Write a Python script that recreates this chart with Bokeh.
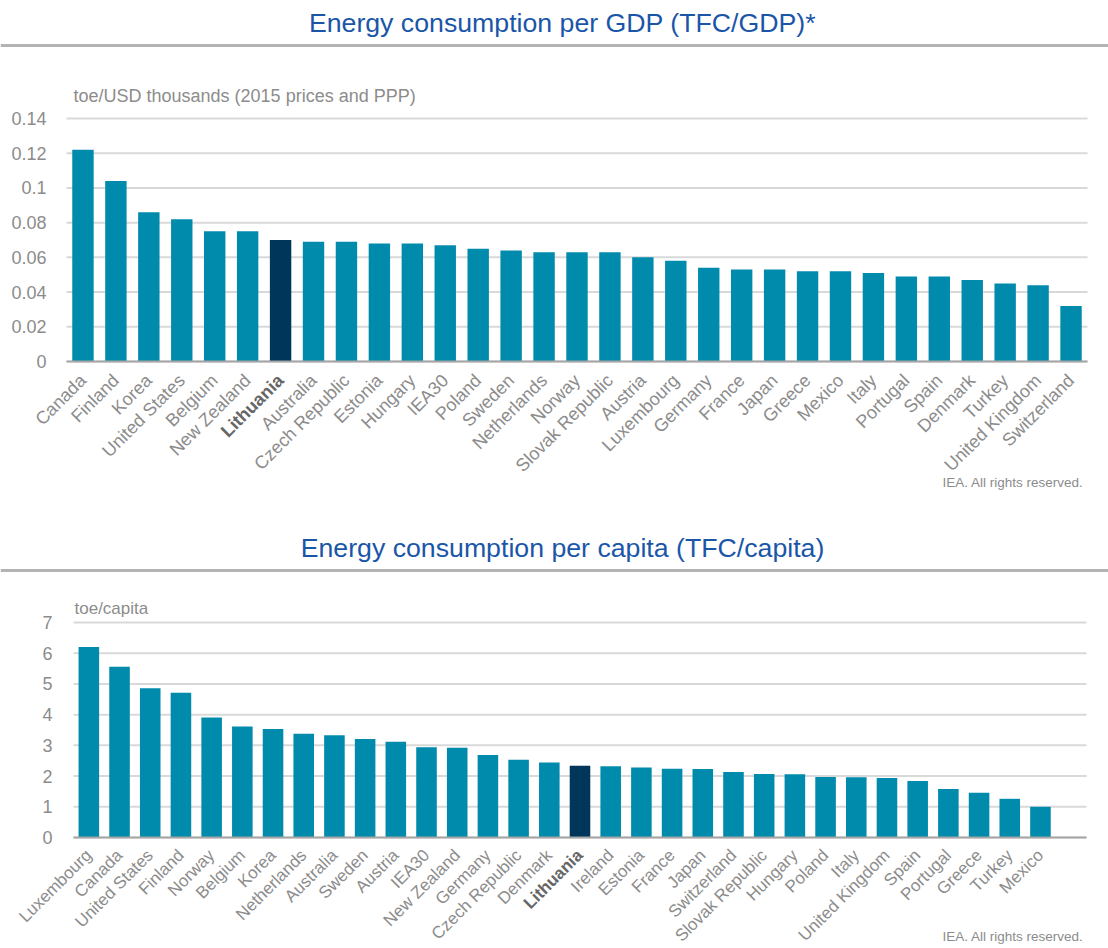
import math
from bokeh.plotting import figure
from bokeh.models import ColumnDataSource, Label, Span, Range1d
from bokeh.layouts import column
from bokeh.core.properties import value
from bokeh.embed import file_html
from bokeh.resources import INLINE

# ---------------- data ----------------
gdp_title = "Energy consumption per GDP (TFC/GDP)*"
gdp_unit = "toe/USD thousands (2015 prices and PPP)"
gdp_countries = ["Canada", "Finland", "Korea", "United States", "Belgium", "New Zealand",
                 "Lithuania", "Australia", "Czech Republic", "Estonia", "Hungary", "IEA30",
                 "Poland", "Sweden", "Netherlands", "Norway", "Slovak Republic", "Austria",
                 "Luxembourg", "Germany", "France", "Japan", "Greece", "Mexico", "Italy",
                 "Portugal", "Spain", "Denmark", "Turkey", "United Kingdom", "Switzerland"]
gdp_values = [0.122, 0.104, 0.086, 0.082, 0.075, 0.075,
              0.070, 0.069, 0.069, 0.068, 0.068, 0.067,
              0.065, 0.064, 0.063, 0.063, 0.063, 0.060,
              0.058, 0.054, 0.053, 0.053, 0.052, 0.052, 0.051,
              0.049, 0.049, 0.047, 0.045, 0.044, 0.032]
gdp_ticks = [0, 0.02, 0.04, 0.06, 0.08, 0.1, 0.12, 0.14]
gdp_tick_labels = ["0", "0.02", "0.04", "0.06", "0.08", "0.1", "0.12", "0.14"]

cap_title = "Energy consumption per capita (TFC/capita)"
cap_unit = "toe/capita"
cap_countries = ["Luxembourg", "Canada", "United States", "Finland", "Norway", "Belgium",
                 "Korea", "Netherlands", "Australia", "Sweden", "Austria", "IEA30",
                 "New Zealand", "Germany", "Czech Republic", "Denmark", "Lithuania", "Ireland",
                 "Estonia", "France", "Japan", "Switzerland", "Slovak Republic", "Hungary",
                 "Poland", "Italy", "United Kingdom", "Spain", "Portugal", "Greece",
                 "Turkey", "Mexico"]
cap_values = [6.20, 5.56, 4.86, 4.71, 3.91, 3.61,
              3.53, 3.38, 3.33, 3.21, 3.12, 2.94,
              2.92, 2.69, 2.53, 2.44, 2.34, 2.32,
              2.28, 2.24, 2.23, 2.13, 2.07, 2.06,
              1.97, 1.96, 1.94, 1.84, 1.58, 1.46,
              1.26, 1.00]
cap_ticks = [0, 1, 2, 3, 4, 5, 6, 7]
cap_tick_labels = ["0", "1", "2", "3", "4", "5", "6", "7"]

credit = "IEA. All rights reserved."
highlight = "Lithuania"

# ---------------- style ----------------
FONT = "Liberation Sans"
TEAL = "#008BAD"
NAVY = "#00365A"
BLUE = "#1A56A8"
GREY_TXT = "#8C8C8C"
DARK_TXT = "#666666"
GRID = "#D9D9D9"
AXIS = "#A6A6A6"
RULE = "#B3B3B3"
W = 1108


def build(title, unit, countries, values, ticks, tick_labels, n_slots, fig_h,
          grid_left, grid_right, axis_py, top_py, title_py, rule_py,
          unit_px, unit_py, unit_size, tick_right_px, credit_px, credit_py,
          bar_width, label_dy, label_size):
    # pixel layout -> data coordinates (frame covers the whole canvas)
    sw = (grid_right - grid_left) / n_slots
    pxu = (axis_py - top_py) / ticks[-1]

    def X(px):
        return -0.5 + (px - grid_left) / sw

    def Y(py):
        return (axis_py - py) / pxu

    p = figure(width=W, height=fig_h, x_range=Range1d(X(0), X(W)),
               y_range=Range1d(Y(fig_h), Y(0)), toolbar_location=None,
               output_backend="svg", title=None, x_axis_location=None,
               y_axis_location=None, min_border=0, outline_line_color=None)
    p.grid.visible = False

    # header
    p.add_layout(Label(x=X(W / 2 + 8), y=Y(title_py), text=title, text_align="center",
                       text_baseline="middle", text_font=FONT, text_font_size="26.7px",
                       text_color=BLUE))
    p.add_layout(Span(location=Y(rule_py), dimension="width", line_color=RULE,
                      line_width=3))

    # gridlines and tick labels
    gsrc = ColumnDataSource(dict(y=ticks, lab=tick_labels,
                                 x0=[-0.5] * len(ticks), x1=[n_slots - 0.5] * len(ticks),
                                 xl=[X(tick_right_px)] * len(ticks)))
    p.segment(x0="x0", x1="x1", y0="y", y1="y", line_color=GRID, line_width=2, source=gsrc)
    p.text(x="xl", y="y", text="lab", text_align="right", text_baseline="middle",
           text_font=value(FONT), text_font_size=value("18px"), text_color=GREY_TXT,
           source=gsrc)

    # bars
    idx = list(range(len(countries)))
    src = ColumnDataSource(dict(
        x=idx, top=values, name=countries,
        color=[NAVY if c == highlight else TEAL for c in countries],
        style=["bold" if c == highlight else "normal" for c in countries],
        tcolor=[DARK_TXT if c == highlight else GREY_TXT for c in countries],
        ylab=[Y(axis_py + label_dy)] * len(countries),
    ))
    p.vbar(x="x", top="top", width=bar_width, fill_color="color", line_color=None,
           source=src)

    # baseline axis
    p.segment(x0=[-0.5], x1=[n_slots - 0.5], y0=[0], y1=[0], line_color=AXIS, line_width=2)

    # category labels
    p.text(x="x", y="ylab", text="name", angle=math.pi / 4, text_align="right",
           text_baseline="middle", text_font=value(FONT), text_font_size=value(label_size),
           text_font_style="style", text_color="tcolor", source=src)

    # unit & credit
    p.add_layout(Label(x=X(unit_px), y=Y(unit_py), text=unit, text_align="left",
                       text_baseline="middle", text_font=FONT, text_font_size=unit_size,
                       text_color=GREY_TXT))
    p.add_layout(Label(x=X(credit_px), y=Y(credit_py), text=credit, text_align="right",
                       text_baseline="middle", text_font=FONT, text_font_size="13.5px",
                       text_color=GREY_TXT))
    return p


top = build(gdp_title, gdp_unit, gdp_countries, gdp_values, gdp_ticks, gdp_tick_labels,
            n_slots=len(gdp_countries), fig_h=499, grid_left=66, grid_right=1087,
            axis_py=361, top_py=118, title_py=22, rule_py=45, unit_px=73, unit_py=95,
            unit_size="18px", tick_right_px=46, credit_px=1083, credit_py=482,
            bar_width=0.65, label_dy=16, label_size="18px")
bottom = build(cap_title, cap_unit, cap_countries, cap_values, cap_ticks, cap_tick_labels,
               n_slots=len(cap_countries) + 1, fig_h=448, grid_left=73, grid_right=1086,
               axis_py=338, top_py=123, title_py=48, rule_py=71, unit_px=74, unit_py=109,
               unit_size="17px", tick_right_px=52, credit_px=1083, credit_py=437,
               bar_width=0.67, label_dy=15, label_size="17px")

layout = column(top, bottom, spacing=0)
open("out.html", "w").write(file_html(layout, INLINE))
